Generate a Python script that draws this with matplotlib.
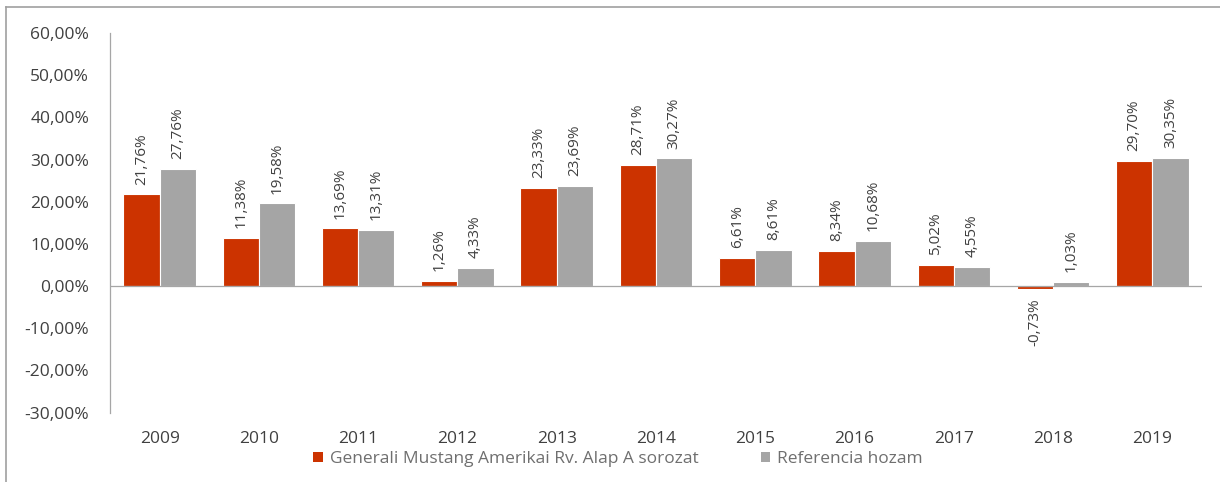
import matplotlib
matplotlib.use("Agg")
import matplotlib.pyplot as plt
from matplotlib.lines import Line2D
from matplotlib.patches import Patch
import numpy as np

years = ["2009", "2010", "2011", "2012", "2013", "2014", "2015", "2016", "2017", "2018", "2019"]
fund = [21.76, 11.38, 13.69, 1.26, 23.33, 28.71, 6.61, 8.34, 5.02, -0.73, 29.70]
reference = [27.76, 19.58, 13.31, 4.33, 23.69, 30.27, 8.61, 10.68, 4.55, 1.03, 30.35]
series_names = ["Generali Mustang Amerikai Rv. Alap A sorozat", "Referencia hozam"]
yticks = [-30, -20, -10, 0, 10, 20, 30, 40, 50, 60]

RED = "#CC3300"
GREY = "#A5A5A5"
TXT = "#404040"

plt.rcParams['font.family'] = ['Open Sans', 'DejaVu Sans']

fig = plt.figure(figsize=(12.2, 4.82), dpi=100)
ax = fig.add_axes([110/1220, 1-412.6/482, (1202-110)/1220, (412.6-33)/482])

x = np.arange(len(years))
w = 0.365
b1 = ax.bar(x - w/2, fund, w, color=RED, edgecolor="white", linewidth=0.8)
b2 = ax.bar(x + w/2, reference, w, color=GREY, edgecolor="white", linewidth=0.8)

def fmt(v):
    return f"{v:.2f}".replace(".", ",") + "%"

for bars, vals in ((b1, fund), (b2, reference)):
    for r, v in zip(bars, vals):
        cx = r.get_x() + r.get_width()/2
        if v >= 0:
            ax.annotate(fmt(v), (cx, v), xytext=(0, 7), textcoords="offset points",
                        rotation=90, ha="center", va="bottom", fontsize=11, color=TXT)
        else:
            ax.annotate(fmt(v), (cx, v), xytext=(0, -7), textcoords="offset points",
                        rotation=90, ha="center", va="top", fontsize=11, color=TXT)

ax.set_ylim(-30, 60)
ax.set_xlim(-0.5, len(years) - 0.5)
ax.set_yticks(yticks)
ax.set_yticklabels([f"{t:.2f}".replace(".", ",") + "%" for t in yticks], fontsize=12.5, color=TXT)
ax.set_xticks(x)
ax.set_xticklabels(years, fontsize=12.5, color=TXT)
ax.tick_params(axis="both", length=0)
ax.tick_params(axis="y", pad=15)
ax.tick_params(axis="x", pad=13)
for s in ("top", "right", "bottom"):
    ax.spines[s].set_visible(False)
ax.spines["left"].set_color("#A6A6A6")
ax.spines["left"].set_linewidth(0.9)
ax.axhline(0, color="#A6A6A6", linewidth=0.9, zorder=3)

handles = [Patch(facecolor=RED, edgecolor="none"), Patch(facecolor=GREY, edgecolor="none")]
leg = fig.legend(handles, series_names, loc="center", bbox_to_anchor=(618/1220, 1-459/482),
                 ncol=2, frameon=False, fontsize=12.5, handlelength=0.55, handleheight=0.55,
                 handletextpad=0.4, columnspacing=3.6, labelcolor="#6F6F6F")

# outer frame lines
fig.add_artist(Line2D([6/1220, 6/1220], [0, 1-7/482], transform=fig.transFigure, color="#A0A0A0", linewidth=1.2))
fig.add_artist(Line2D([6/1220, 1], [1-7/482, 1-7/482], transform=fig.transFigure, color="#A0A0A0", linewidth=1.2))

fig.savefig("out.png", dpi=100)
